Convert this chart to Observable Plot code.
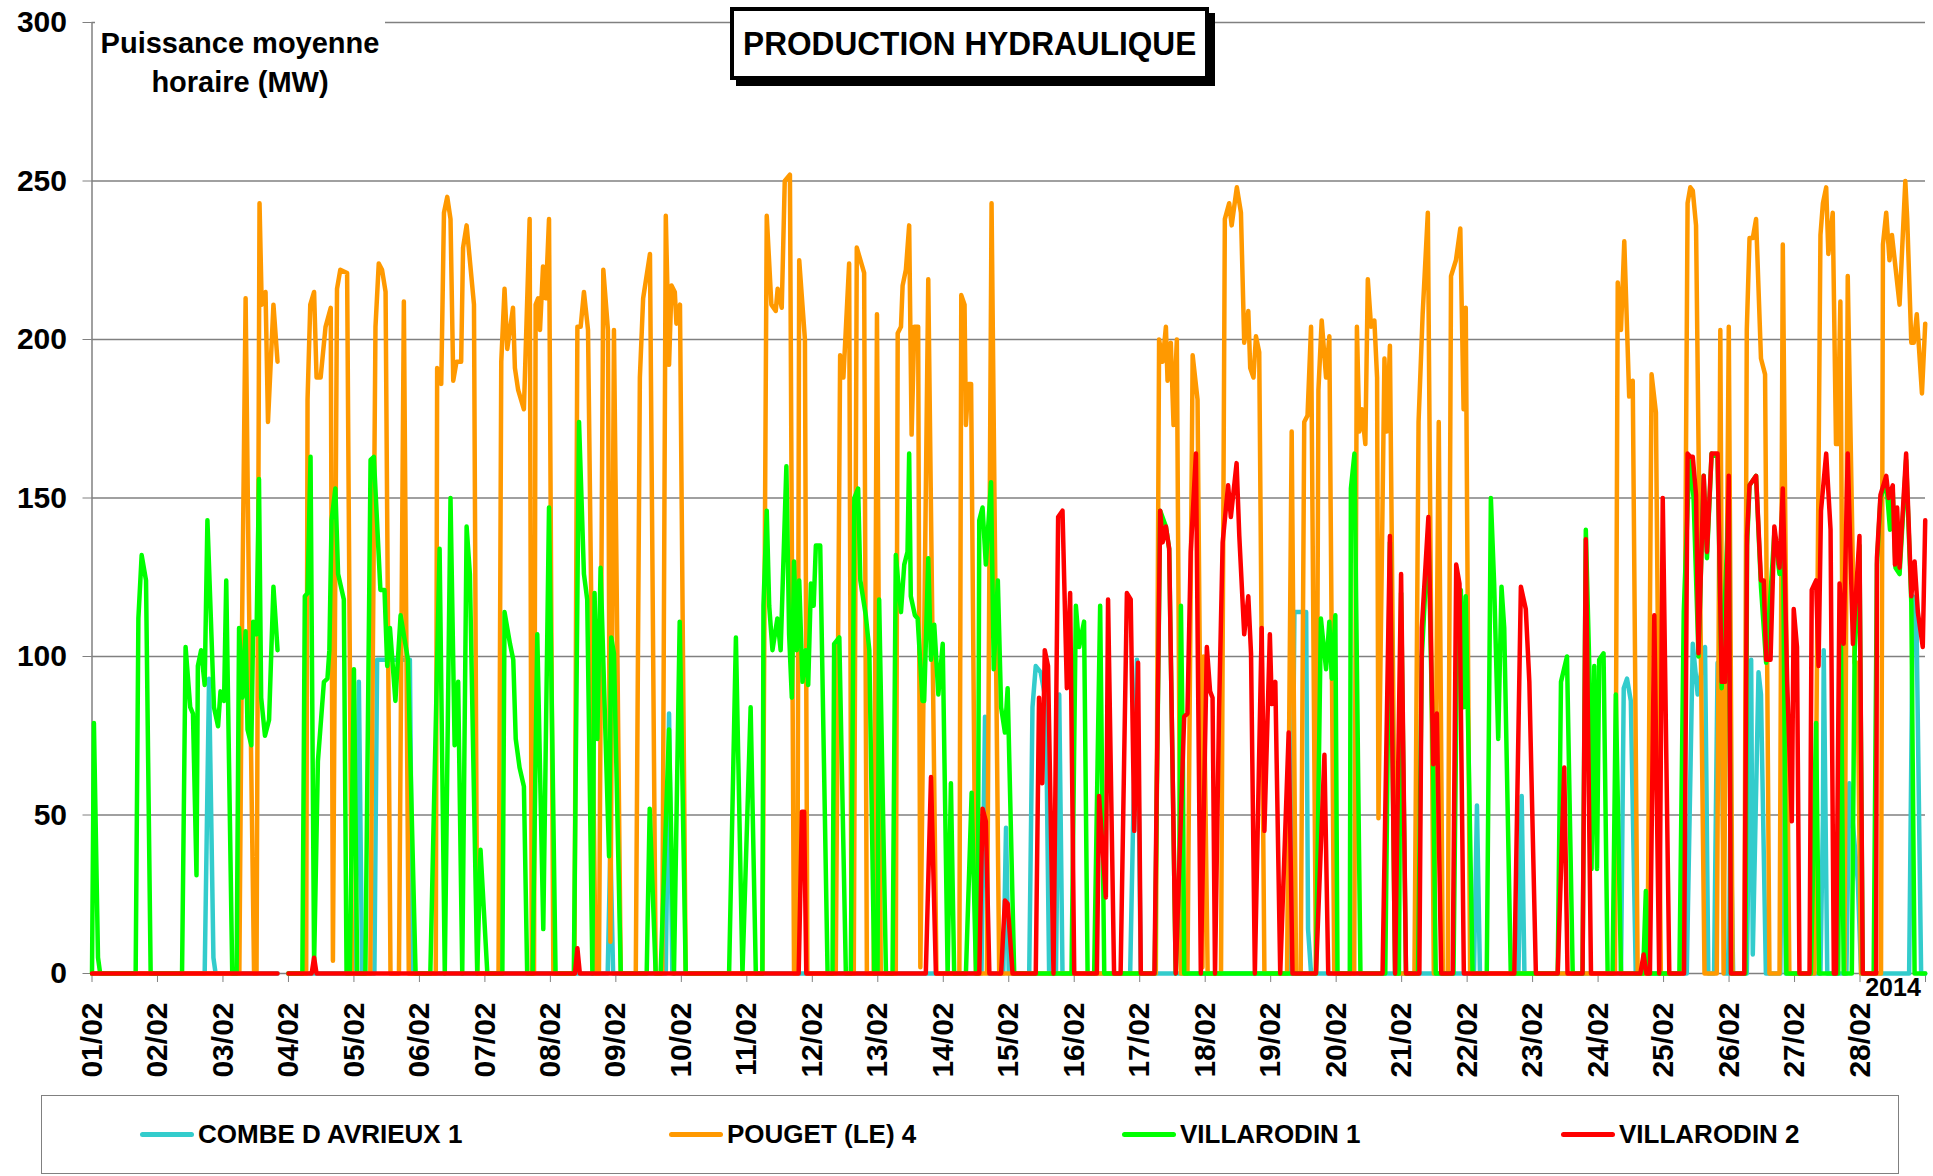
<!DOCTYPE html>
<html>
<head>
<meta charset="utf-8">
<script src="https://cdn.jsdelivr.net/npm/d3@7"></script>
<script src="https://cdn.jsdelivr.net/npm/@observablehq/plot@0.6"></script>
<style>
  body { margin: 0; background: #fff; font-family: "Liberation Sans", Arial, sans-serif; }
  #wrap { position: relative; width: 1933px; height: 1176px; overflow: hidden; background: #fff; }
  #chart { position: absolute; left: 0; top: 0; }
  #chart svg { overflow: visible; }
  .title { position: absolute; left: 730px; top: 7px; width: 471px; height: 65px; border: 4px solid #000;
           box-shadow: 6px 6px 0 #000; background: #fff; display: flex; align-items: center; justify-content: center; }
  .title span { font-weight: bold; font-size: 34px; transform: scaleX(0.93); white-space: nowrap; color: #000; }
  .ytitle { position: absolute; left: 95px; top: 16px; width: 290px; padding-top: 8px; padding-bottom: 6px; background: #fff;
            text-align: center; font-weight: bold; font-size: 29px; line-height: 39px; color: #000; }
  .year { position: absolute; left: 1862px; top: 973px; width: 62px; text-align: center; font-weight: bold; font-size: 25px; color: #000; }
  .legend { position: absolute; left: 41px; top: 1095px; width: 1858px; height: 79px; box-sizing: border-box; border: 1.5px solid #808080; background: #fff; }
  .item { position: absolute; top: 0; height: 76px; display: flex; align-items: center; }
  .sw { width: 54px; height: 5px; border-radius: 3px; margin-right: 4px; }
  .lab { font-weight: bold; font-size: 26px; color: #000; white-space: nowrap; }
</style>
</head>
<body>
<div id="wrap">
  <div id="chart"></div>
  <div class="ytitle">Puissance moyenne<br>horaire (MW)</div>
  <div class="title"><span>PRODUCTION HYDRAULIQUE</span></div>
  <div class="year">2014</div>
  <div class="legend" id="legend"></div>
</div>
<script>
// ---- Data: [hour since 01/02/2014 00:00, MW]; NaN = missing hours ----
const seriesNames = ["COMBE D AVRIEUX 1", "POUGET (LE) 4", "VILLARODIN 1", "VILLARODIN 2"];
const seriesColors = ["#33CCCC", "#FF9900", "#00FF00", "#FF0000"];
const dayLabels = ["01/02","02/02","03/02","04/02","05/02","06/02","07/02","08/02","09/02","10/02","11/02","12/02","13/02","14/02",
                   "15/02","16/02","17/02","18/02","19/02","20/02","21/02","22/02","23/02","24/02","25/02","26/02","27/02","28/02"];
const yTicks = [0, 50, 100, 150, 200, 250, 300];
const yearLabel = "2014";

const combeAvrieux1 = [[0,0],[41.3,0],[42.9,93],[44.5,5],[45.3,0],[68,0],[70,NaN],[72,0],[96.5,0],[97.8,92],[99,0],[103.5,0],[104.5,99],[116.5,99],[117.5,0],
  [189,0],[190,40],[191,0],[210.3,0],[211.5,82],[212.7,0],[326,0],[327.3,81],[328.5,0],[334,0],[335,46],[336,0],[343.5,0],[344.7,84],[345.9,97],[347.7,95],
  [349.6,86],[350.8,0],[353.3,0],[354.5,88],[355.7,0],[380.5,0],[381.5,44],[383,99],[384.4,0],[439.5,0],[440.7,114],[445,114],[445.7,14],[446.8,0],
  [506.5,0],[507.6,53],[508.7,0],[522.8,0],[524,56],[525,0],[560.4,0],[561.4,90],[562.6,93],[564,86],[565.8,0],[584.5,0],[586.7,104],[588.5,88],[591.2,103],
  [592.4,0],[594.5,0],[595.8,98],[597,98],[598.5,0],[600,0],[600.5,54],[601.5,0],[606.5,0],[608.1,99],[608.7,6],[610.8,95],[611.7,88],[613.5,0],[618.8,0],
  [619.7,81],[620.8,0],[633.5,0],[634.4,49],[634.7,102],[636,0],[643,0],[644.1,60],[647.2,29],[648.4,0],[666,0],[667.4,119],[668.6,118],[670.4,0],[671.9,0]];

const pouget4 = [[0,0],[54,0],[55,110],[56.3,213],[57.5,120],[59.4,0],[60.3,0],[61.4,243],[62.2,211],[63.6,215],[64.5,174],[66.5,211],[68,193],[70,NaN],
  [72,0],[78.5,0],[79,181],[80,211],[81.4,215],[82.3,188],[83.8,188],[85.6,204],[87.5,210],[88.3,4],[89.8,216],[91,222],[93.5,221],[95.3,0],[102,0],
  [103.9,204],[105.1,224],[106.3,222],[107.6,215],[109.4,0],[112.5,0],[114.3,212],[116.1,0],[126,0],[126.5,191],[128,186],[129,240],[130.2,245],[131.4,238],
  [132.4,187],[133.6,193],[135.3,193],[136,229],[137.3,236],[140,211],[141.2,0],[149,0],[150,193],[151.2,216],[152.2,197],[154.3,210],[155,191],[156.2,184],
  [158.3,178],[160.4,238],[161.2,0],[162,0],[162.6,211],[163.5,213],[164.2,203],[165.3,223],[166.3,213],[167.5,238],[169.1,0],[176.8,0],[177.9,204],
  [179.1,204],[180.3,215],[181.8,203],[184.6,0],[185.8,0],[187.4,222],[189.1,203],[190,10],[191.3,203],[193.8,0],[199.3,0],[200.8,188],[202,213],
  [204.5,227],[206.6,0],[209,0],[210.3,239],[211.5,192],[212.4,217],[213.6,215],[214.2,205],[215.5,211],[217.6,0],[245.7,0],[247.3,239],[249,211],
  [250.6,209],[251.3,216],[252.8,210],[253.9,250],[255.8,252],[257.3,0],[258.5,0],[259.2,225],[261.3,200],[262.2,0],[272.6,0],[274.2,195],[275.4,188],
  [277.5,224],[278.4,0],[279.2,0],[280.3,229],[283,221],[284,0],[286.5,0],[287.7,208],[289.1,0],[294.6,0],[295.3,202],[296.5,204],[297.1,217],[298.3,222],
  [299.5,236],[300.4,170],[301.4,204],[302.8,204],[303.6,2],[306.5,219],[309.5,0],[317.9,0],[318.6,214],[319.8,211],[320.3,173],[321.2,186],[322.2,186],
  [324,0],[328,0],[329.7,243],[332.5,0],[389.9,0],[391.1,200],[392.4,193],[393.6,204],[394.2,187],[395.4,199],[396.4,173],[397.6,200],[399.1,0],[401.5,0],
  [403.4,195],[405.2,181],[407,2],[407.4,100],[408.9,0],[413.8,0],[415.2,238],[416.8,243],[417.7,236],[419.6,248],[421.1,240],[422.3,199],[423.8,209],
  [424.5,191],[425.7,188],[426.6,201],[427.8,196],[429.7,0],[438,0],[439.7,171],[441.3,0],[443,0],[444.3,174],[445.5,176],[446.8,204],[448.6,0],[449.5,184],
  [450.7,206],[452.3,188],[453.5,201],[455.3,0],[462.6,0],[463.6,204],[464.5,171],[465.4,178],[466.7,167],[467.6,219],[468.8,204],[470,206],[471,188],
  [471.5,49],[473.7,194],[474.6,171],[475.7,198],[477.9,0],[484.7,0],[486.2,174],[487.7,208],[489.6,240],[491.8,0],[493.6,174],[495.1,0],[496.9,0],
  [498.1,220],[499.9,225],[501.5,235],[502.7,178],[503.5,210],[505.1,0],[558.2,0],[559.2,218],[560.4,203],[561.6,231],[563.4,182],[564.7,187],[566.5,0],
  [570.1,0],[571.6,189],[573.2,177],[575,0],[583,0],[584.8,243],[585.8,248],[586.7,247],[587.9,236],[591,0],[595.5,0],[596.8,203],[598,0],[599.9,204],
  [601.3,0],[605.6,0],[606.5,203],[607.5,232],[608.7,232],[609.9,238],[611.7,194],[613.2,189],[614.8,0],[618.5,0],[619.7,230],[622.1,0],[631.3,0],
  [633.5,233],[634.4,243],[635.6,248],[636.4,227],[638,240],[639.2,167],[639.8,167],[640.8,212],[642.3,0],[643.5,220],[646,98],[647,98],[648.4,0],
  [655.7,0],[656.4,230],[657.6,240],[658.8,225],[659.7,233],[662.5,211],[664.6,250],[665.3,238],[666.8,199],[667.7,199],[668.8,208],[670.7,183],[671.9,205]];

const villarodin1 = [[0,0],[0.7,79],[2.2,5],[3,0],[16,0],[17,112],[18.2,132],[19.8,124],[21.5,0],[33,0],[34.3,103],[36,84],[37,82],[38.3,31],[38.8,97],
  [40,102],[41.3,91],[42.3,143],[44.7,84],[46.2,78],[47.1,89],[48.4,86],[49.2,124],[51.4,0],[53,0],[53.9,109],[55.1,87],[56.3,108],[57,77],[58.4,72],
  [59.1,111],[60.3,107],[61.2,156],[62,87],[63.4,75],[64.9,80],[66.5,122],[68,102],[70,NaN],[72,0],[77.1,0],[78,119],[79,120],[80.1,163],[81.4,3],
  [82.8,67],[85,92],[86.3,93],[87,102],[87.8,143],[89.2,153],[90.2,126],[92.3,118],[93.3,0],[94.5,0],[96,96],[97.2,0],[100.2,0],[102.1,162],[103.3,163],
  [105.7,121],[107.2,121],[108.2,97],[109.2,109],[111.2,86],[113.1,113],[115.8,99],[118.6,0],[124,0],[127.4,134],[129.3,0],[131.4,150],[132.9,72],
  [134.2,92],[135.7,0],[137.3,141],[138.5,126],[141.2,0],[142.4,39],[144.9,0],[150.4,0],[151.2,114],[153.2,104],[154.4,99],[155.3,74],[156.7,65],
  [158.3,59],[159.5,0],[161.5,0],[163.2,107],[165.4,14],[167.5,147],[169.9,0],[176.6,0],[178.5,174],[180.3,126],[181.5,118],[183.4,0],[184.2,120],
  [185.2,74],[186.4,128],[189.5,37],[190.3,106],[191.3,101],[193.8,0],[203.3,0],[204.4,52],[206.6,0],[208.4,0],[211.5,77],[213.3,0],[215.4,111],[217.6,0],
  [233.5,0],[236,106],[238.4,0],[241.4,84],[243.3,0],[245.7,0],[246.1,116],[247.3,146],[248.2,116],[249.4,102],[251.2,112],[252.4,102],[254.5,160],
  [255.5,107],[256.5,87],[257.3,130],[258.3,102],[259.2,124],[260.4,92],[261.6,102],[262.5,91],[263.5,123],[264.5,116],[265.3,135],[266.9,135],[269.6,0],
  [271.4,0],[272,104],[273.9,106],[276.3,0],[278.1,0],[279.4,150],[280.8,153],[281.6,124],[283.6,113],[284.9,102],[286.7,0],[287.9,0],[288.5,118],[291,0],
  [293.4,0],[294.6,132],[296.5,114],[297.7,129],[298.9,133],[299.5,164],[300.1,119],[301.6,113],[302.6,112],[304.4,86],[305,86],[306.5,131],[307.5,99],
  [308.7,110],[310.2,88],[311.8,104],[313.6,0],[314.8,60],[316,0],[320.3,0],[322.4,57],[324,0],[324.6,0],[325.2,143],[326.4,147],[327.6,129],[329.5,155],
  [330.5,96],[332,124],[333.2,84],[334.6,76],[335.6,90],[338,0],[359,0],[360.6,116],[361.8,103],[363.6,111],[364.9,0],[367.3,0],[369.5,116],[371,0],
  [389.5,0],[391.5,146],[393.6,141],[394.8,134],[397.2,0],[398.5,32],[399.1,116],[399.8,70],[400.3,0],[448.6,0],[450.4,112],[452.3,96],[453.5,111],
  [454.4,93],[455.7,113],[456.5,0],[461,0],[461.4,153],[462.7,164],[464.9,0],[474,0],[475.7,136],[477.6,0],[479,0],[479.8,120],[481.6,0],[486,0],
  [487.4,100],[489.8,140],[491.6,62],[492.5,0],[499,0],[500.5,119],[501.7,121],[502.7,84],[503.5,119],[506,0],[511.2,0],[512.7,150],[513.9,123],[515.4,74],
  [516.6,122],[517.6,109],[520,0],[537.2,0],[538.4,92],[540.6,100],[542.7,0],[546.3,0],[547.5,140],[548.8,96],[549.6,33],[550.6,97],[551.6,33],[552.4,99],
  [554,101],[555.5,0],[557.3,0],[558.5,88],[560.4,0],[568.5,0],[569.5,26],[570.5,0],[581.8,0],[583.4,114],[585.5,163],[587,150],[588.8,100],[590.7,157],
  [591.9,131],[593.6,164],[595.8,163],[597.3,90],[599.9,150],[600.7,0],[606,0],[606.6,135],[607.5,154],[609.9,157],[611.7,122],[613.6,98],[616.6,139],
  [618.5,126],[619.7,150],[621,0],[630,0],[631.9,79],[633,0],[640,0],[641,105],[642,0],[645,0],[646,100],[647.8,135],[649,0],[653,0],[654.2,129],
  [655.5,150],[657.6,155],[659,140],[660,152],[661,128],[662.5,126],[664.9,162],[666.8,117],[668,0],[671.9,0]];

const villarodin2 = [[0,0],[68,0],[70,NaN],[72,0],[80.5,0],[81.4,5],[82.3,0],[177,0],[177.9,8],[178.8,0],[259,0],[260.2,51],[261,51],[261.8,0],[305.6,0],
  [307.5,62],[309.3,0],[325.2,0],[326.4,52],[327.6,48],[328.9,0],[333.2,0],[334.6,23],[335.6,22],[337.4,0],[345.9,0],[347.1,87],[348.3,60],[349.2,102],
  [350.4,97],[352.4,0],[354.1,144],[355.7,146],[357.3,90],[358.5,120],[360,0],[368.3,0],[369.1,56],[371.6,24],[372.4,118],[374.6,0],[377,0],[379.3,120],
  [380.7,118],[382,45],[383.4,98],[384.4,0],[389.4,0],[391.5,146],[392.4,136],[393.6,141],[394.8,134],[397.2,0],[400.3,81],[401.5,82],[402.7,133],
  [404.6,164],[406.4,0],[408.6,103],[409.8,89],[410.7,87],[411.6,0],[413.1,84],[414.4,136],[416.4,154],[417.4,144],[419.5,161],[420.5,138],[422.3,107],
  [423.8,119],[424.8,101],[426.2,0],[428.7,109],[429.7,45],[431.7,107],[432.4,85],[433.7,92],[435.5,0],[438.6,76],[440,0],[448.6,0],[451.7,69],[453.1,0],
  [473,0],[475.7,138],[477.6,0],[479.8,126],[481.6,0],[486.5,0],[487.4,109],[489.8,144],[491.6,66],[492.9,82],[494.5,0],[498.7,0],[500,129],[501.2,123],
  [502.8,0],[521.3,0],[523.7,122],[525.5,115],[526.8,92],[529.2,0],[537.2,0],[539.6,65],[540.8,0],[546.3,0],[547.5,137],[549.4,0],[567.5,0],[568.7,6],
  [569.7,0],[571,0],[572.6,113],[574.4,0],[575.7,150],[578.1,0],[583.5,0],[584.8,164],[585.8,163],[586.7,163],[587.9,151],[588.8,101],[590.7,157],
  [591.9,133],[593.6,164],[595.8,164],[597.3,92],[598.5,92],[599.9,157],[600.7,0],[605.6,0],[606.6,138],[607.5,154],[609.9,157],[611.7,124],[612.7,124],
  [613.6,99],[615.2,99],[616.6,141],[618.5,128],[619.7,153],[621.3,92],[623,48],[623.7,115],[624.9,103],[625.8,0],[629.5,0],[630.3,121],[631.9,124],
  [632.8,97],[633.7,146],[635.6,164],[637.2,140],[638.4,0],[639.2,0],[640.5,123],[642,104],[643.5,164],[645.4,104],[647.8,138],[649,0],[653.9,0],
  [654.2,131],[655.5,151],[657.6,157],[658.5,150],[660,154],[660.8,129],[661.6,147],[662.5,128],[664.9,164],[666.8,119],[668,130],[669.2,114],
  [671,103],[671.9,143]];

// ---- Build ----
const start = Date.UTC(2014, 1, 1);
const end = Date.UTC(2014, 2, 1);
const seriesData = [combeAvrieux1, pouget4, villarodin1, villarodin2];
const rowsOf = (pairs, name) => pairs.map(([h, v]) => ({date: new Date(start + h * 3600000), value: v, series: name}));
const dayTicks = d3.utcDay.range(new Date(start), new Date(end + 1));

const lineMarks = seriesData.map((pairs, i) =>
  Plot.line(rowsOf(pairs, seriesNames[i]), {
    x: "date", y: "value", stroke: seriesColors[i], strokeWidth: 4.5,
    strokeLinejoin: "round", strokeLinecap: "round"
  }));

const chart = Plot.plot({
  width: 1933, height: 1090,
  marginTop: 22, marginBottom: 117, marginLeft: 91.5, marginRight: 8,
  style: {background: "transparent", color: "#000", fontFamily: "'Liberation Sans', Arial, sans-serif", overflow: "visible"},
  x: {type: "utc", domain: [new Date(start), new Date(end)]},
  y: {domain: [0, 300]},
  marks: [
    Plot.gridY(yTicks.slice(1), {stroke: "#808080", strokeOpacity: 1, strokeWidth: 1.3}),
    Plot.axisY(yTicks, {tickSize: 9, tickPadding: 16, fontSize: 30, fontWeight: "bold", stroke: "#808080", fill: "#000",
      label: null, tickFormat: d => String(d)}),
    Plot.axisX(dayTicks, {tickSize: 9, tickPadding: 20, tickRotate: -90, fontSize: 30, fontWeight: "bold",
      stroke: "#808080", fill: "#000", label: null,
      tickFormat: d => dayLabels[Math.round((d - start) / 86400000)] || ""}),
    Plot.ruleX([new Date(start)], {stroke: "#808080", strokeWidth: 1.5}),
    Plot.ruleY([0], {stroke: "#808080", strokeWidth: 1.5}),
    ...lineMarks
  ]
});
document.getElementById("chart").appendChild(chart);
document.querySelector(".year").textContent = yearLabel;

// ---- Legend ----
const legendX = [98, 627, 1080, 1519];
const legend = document.getElementById("legend");
seriesNames.forEach((name, i) => {
  const it = document.createElement("div");
  it.className = "item";
  it.style.left = legendX[i] + "px";
  it.innerHTML = `<div class="sw" style="background:${seriesColors[i]}"></div><div class="lab">${name}</div>`;
  legend.appendChild(it);
});
</script>
</body>
</html>
